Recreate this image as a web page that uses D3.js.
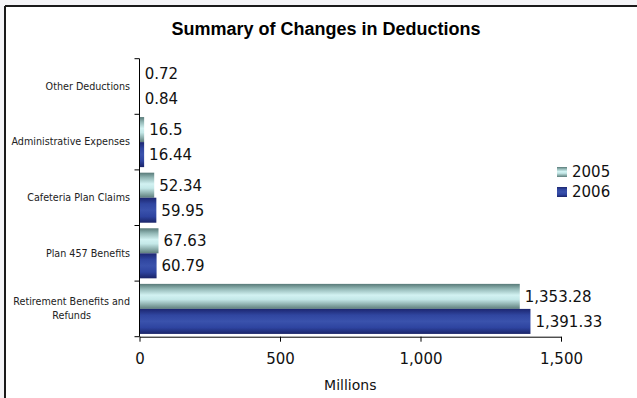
<!DOCTYPE html>
<html>
<head>
<meta charset="utf-8">
<script src="https://cdn.jsdelivr.net/npm/d3@7"></script>
<style>
  html, body { margin: 0; padding: 0; background: #f4f4f7; }
  svg { display: block; }
</style>
</head>
<body>
<div id="chart"></div>
<script>
// chart data
const categories = ["Other Deductions", "Administrative Expenses", "Cafeteria Plan Claims", "Plan 457 Benefits", "Retirement Benefits and Refunds"];
const seriesNames = ["2005", "2006"];
const values2005 = [0.72, 16.5, 52.34, 67.63, 1353.28];
const values2006 = [0.84, 16.44, 59.95, 60.79, 1391.33];
const xTicks = [0, 500, 1000, 1500];

const width = 637, height = 398;
const margin = { top: 58.7, left: 139.5, right: 76, bottom: 61.3 };

const svg = d3.select("#chart").append("svg")
  .attr("width", width)
  .attr("height", height);

// gradients for the bars
const defs = svg.append("defs");
function addGradient(id, stops) {
  const g = defs.append("linearGradient").attr("id", id)
    .attr("x1", 0).attr("y1", 0).attr("x2", 0).attr("y2", 1);
  stops.forEach(s => g.append("stop").attr("offset", s[0]).attr("stop-color", s[1]));
}
addGradient("g2005", [[0, "#587a78"], [0.2, "#93b8b6"], [0.45, "#d2f2f2"], [0.62, "#c4e8e8"], [0.85, "#86a8a6"], [1, "#5e7e7c"]]);
addGradient("g2006", [[0, "#1c2670"], [0.25, "#3046a0"], [0.5, "#3a52ac"], [0.75, "#2e44a0"], [1, "#1a2468"]]);
const fills = { "2005": "url(#g2005)", "2006": "url(#g2006)" };

// frame
svg.append("rect").attr("x", 5).attr("y", 6).attr("width", width).attr("height", height)
  .attr("fill", "#fff");
svg.append("line").attr("x1", 5).attr("x2", width).attr("y1", 6).attr("y2", 6)
  .attr("stroke", "#1a1a1a").attr("stroke-width", 2);
svg.append("line").attr("x1", 5).attr("x2", 5).attr("y1", 6).attr("y2", height)
  .attr("stroke", "#1a1a1a").attr("stroke-width", 2);

svg.append("text")
  .attr("x", 326).attr("y", 35)
  .attr("text-anchor", "middle")
  .style("font-family", "'Liberation Sans', Arial, sans-serif")
  .style("font-weight", "bold")
  .style("font-size", "18px")
  .text("Summary of Changes in Deductions");

const x = d3.scaleLinear().domain([0, 1500]).range([margin.left, 561]);
const y = d3.scaleBand().domain(categories)
  .range([margin.top, 336.7])
  .paddingInner(0.1).paddingOuter(0.05);
const ySub = d3.scaleBand().domain(seriesNames).range([0, y.bandwidth()]);

const rows = categories.map((c, i) => ({ cat: c, vals: [
  { key: "2005", value: values2005[i] },
  { key: "2006", value: values2006[i] }
]}));

const groups = svg.append("g").selectAll("g")
  .data(rows).enter().append("g")
  .attr("transform", d => `translate(0,${y(d.cat)})`);

groups.selectAll("rect")
  .data(d => d.vals).enter().append("rect")
  .attr("x", x(0))
  .attr("y", d => ySub(d.key))
  .attr("width", d => x(d.value) - x(0))
  .attr("height", ySub.bandwidth())
  .attr("fill", d => fills[d.key]);

groups.selectAll("text")
  .data(d => d.vals).enter().append("text")
  .attr("x", d => x(d.value) + 5)
  .attr("y", d => ySub(d.key) + ySub.bandwidth() / 2)
  .attr("dy", "0.36em")
  .style("font-family", "'DejaVu Sans', Verdana, sans-serif")
  .style("font-size", "15px")
  .attr("fill", "#111")
  .text(d => d3.format(",")(d.value));

// x axis
const xAxis = svg.append("g")
  .attr("transform", "translate(0,336.7)")
  .call(d3.axisBottom(x).tickValues(xTicks).tickFormat(d3.format(",")).tickSize(5).tickSizeOuter(0).tickPadding(12));
xAxis.select(".domain").attr("stroke", "#000");
xAxis.selectAll(".tick line").attr("stroke", "#000");
xAxis.selectAll("text")
  .style("font-family", "'DejaVu Sans', Verdana, sans-serif")
  .style("font-size", "15px")
  .attr("fill", "#111");

// y axis
const yAxis = svg.append("g")
  .attr("transform", `translate(${margin.left},0)`);
yAxis.append("line")
  .attr("x1", 0).attr("x2", 0).attr("y1", margin.top).attr("y2", 336.7)
  .attr("stroke", "#000");
const yTickPos = categories.map(c => y(c) - y.step() * y.paddingInner() / 2).concat([336.7]);
yAxis.selectAll("line.tk").data(yTickPos).enter().append("line")
  .attr("class", "tk")
  .attr("x1", -5).attr("x2", 0)
  .attr("y1", d => d).attr("y2", d => d)
  .attr("stroke", "#000");

// category labels
const labelWraps = {
  "Retirement Benefits and Refunds": ["Retirement Benefits and", "Refunds"]
};
const catLabels = svg.append("g")
  .style("font-family", "'DejaVu Sans', Verdana, sans-serif")
  .style("font-size", "9.6px")
  .attr("fill", "#222");
categories.forEach(c => {
  const cy = y(c) + y.bandwidth() / 2;
  const lines = labelWraps[c] || [c];
  if (lines.length === 1) {
    catLabels.append("text")
      .attr("x", 130).attr("y", cy).attr("dy", "0.35em")
      .attr("text-anchor", "end").text(c);
  } else {
    const t = catLabels.append("text").attr("text-anchor", "middle");
    lines.forEach((l, i) => {
      t.append("tspan").attr("x", 0)
        .attr("y", cy + (i - (lines.length - 1) / 2) * 14)
        .attr("dy", "0.35em").text(l);
    });
    const w = t.node().getBBox().width;
    t.selectAll("tspan").attr("x", 130 - w / 2);
  }
});

// x axis title
svg.append("text")
  .attr("x", (x(0) + x(1500)) / 2).attr("y", 390)
  .attr("text-anchor", "middle")
  .style("font-family", "'DejaVu Sans', Verdana, sans-serif")
  .style("font-size", "14px")
  .attr("fill", "#111")
  .text("Millions");

// legend
const legend = svg.append("g").attr("transform", "translate(557,167)");
seriesNames.forEach((s, i) => {
  legend.append("rect").attr("x", 0).attr("y", i * 20)
    .attr("width", 10).attr("height", 10).attr("fill", fills[s]);
  legend.append("text").attr("x", 15).attr("y", i * 20 + 5).attr("dy", "0.36em")
    .style("font-family", "'DejaVu Sans', Verdana, sans-serif")
    .style("font-size", "15px")
    .attr("fill", "#111")
    .text(s);
});
</script>
</body>
</html>
